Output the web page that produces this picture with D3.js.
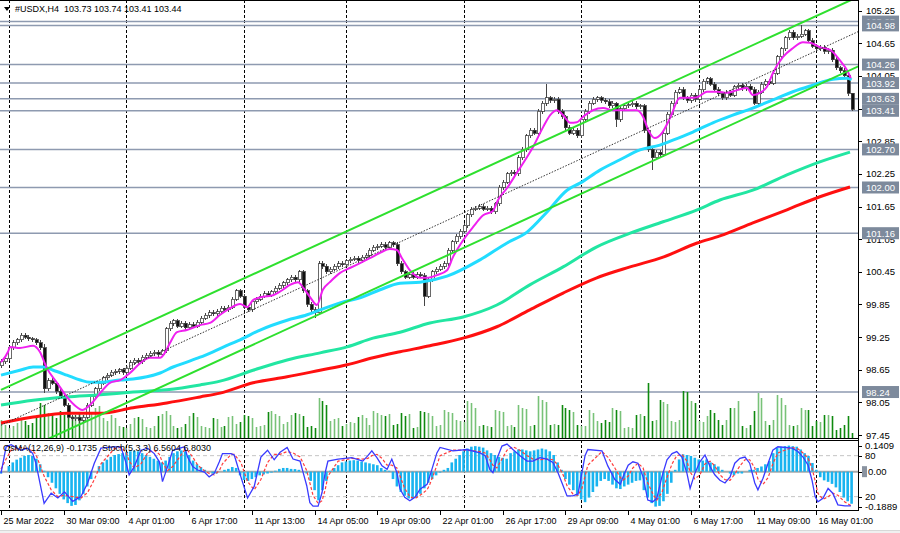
<!DOCTYPE html>
<html>
<head>
<meta charset="utf-8">
<script src="https://cdn.jsdelivr.net/npm/d3@7"></script>
<style>
  html, body { margin: 0; padding: 0; background: #fff; }
  svg { display: block; font-family: "Liberation Sans", Arial, sans-serif; }
</style>
</head>
<body>
<div id="chart"></div>
<script>
////////////////////////////////////////////////////////////////////
////////////////////////////  Data  ////////////////////////////////
const symbolTitle = "#USDX,H4";
const lastOHLC = ["103.73", "103.74", "103.41", "103.44"];
const indicatorTitle = "OsMA(12,26,9) -0.1735  Stoch(5,3,3) 6.5604 6.8030";

// H4 closes, bar 0 = 25 Mar 2022
const closes = [
  98.80, 98.85, 99.05, 99.15, 99.20, 99.28, 99.25, 99.22, 99.20, 99.15,
  99.05, 98.30, 98.45, 98.40, 98.25, 98.15, 98.00, 97.78, 97.75, 97.78,
  97.72, 97.78, 98.00, 98.15, 98.30, 98.40, 98.50, 98.55, 98.60, 98.62,
  98.65, 98.60, 98.68, 98.78, 98.82, 98.80, 98.88, 98.92, 98.95, 98.97,
  98.93, 99.00, 99.40, 99.50, 99.55, 99.45, 99.50, 99.42, 99.48, 99.45,
  99.52, 99.60, 99.65, 99.70, 99.68, 99.72, 99.78, 99.75, 99.80, 99.95,
  100.10, 100.00, 99.80, 99.75, 99.90, 99.95, 100.00, 100.05, 100.02, 100.08,
  100.15, 100.20, 100.25, 100.30, 100.35, 100.30, 100.45, 100.10, 99.85, 99.75,
  99.70, 100.60, 100.55, 100.45, 100.50, 100.55, 100.60, 100.58, 100.65, 100.68,
  100.70, 100.66, 100.72, 100.75, 100.85, 100.90, 100.92, 100.95, 100.90, 100.98,
  100.95, 100.60, 100.45, 100.35, 100.40, 100.35, 100.40, 100.38, 100.00, 100.30,
  100.45, 100.50, 100.55, 100.60, 100.85, 101.00, 101.10, 101.20, 101.30, 101.50,
  101.60, 101.62, 101.65, 101.60, 101.62, 101.55, 101.70, 102.00, 102.10, 102.25,
  102.28, 102.25, 102.55, 102.70, 102.95, 103.05, 103.00, 103.40, 103.55, 103.65,
  103.60, 103.62, 103.40, 103.30, 103.10, 103.00, 103.05, 102.95, 103.25, 103.40,
  103.55, 103.62, 103.65, 103.60, 103.58, 103.50, 103.55, 103.25, 103.45, 103.50,
  103.52, 103.55, 103.48, 103.50, 103.05, 102.70, 102.55, 102.65, 102.60, 103.00,
  103.35, 103.55, 103.75, 103.80, 103.65, 103.60, 103.70, 103.62, 103.80, 103.95,
  104.00, 103.90, 103.80, 103.72, 103.65, 103.75, 103.70, 103.85, 103.88, 103.82,
  103.86, 103.80, 103.55, 103.75, 103.90, 103.95, 103.92, 104.10, 104.40, 104.55,
  104.75, 104.85, 104.75, 104.78, 104.82, 104.88, 104.70, 104.60, 104.55, 104.58,
  104.50, 104.52, 104.35, 104.20, 104.15, 104.05, 103.73, 103.44
];
const firstOpen = 98.72;
// [bar, high, low] for the bars with long shadows
const wickExtremes = [
  [11, 99.12, 98.22], [20, 97.82, 97.62], [80, 99.80, 99.60], [108, 100.42, 99.82],
  [139, 103.90, 103.50], [157, 103.58, 103.12], [166, 102.74, 102.33],
  [204, 104.98, 104.74], [217, 103.74, 103.41]
];

const volumes = [
  18, 13, 10, 12, 15, 20, 17, 13, 15, 20,
  35, 33, 25, 23, 20, 27, 23, 27, 22, 23,
  25, 23, 20, 25, 30, 32, 20, 17, 23, 20,
  12, 11, 10, 14, 20, 21, 19, 11, 10, 12,
  22, 24, 27, 23, 12, 10, 11, 14, 22, 25,
  21, 12, 11, 10, 20, 19, 11, 12, 21, 22,
  14, 16, 23, 22, 20, 11, 12, 13, 26, 27,
  24, 22, 14, 16, 23, 25, 24, 22, 11, 12,
  10, 40, 37, 33, 17, 19, 20, 12, 14, 16,
  15, 21, 23, 20, 13, 27, 25, 23, 22, 24,
  13, 14, 25, 22, 24, 10, 11, 27, 26, 25,
  22, 12, 13, 28, 26, 25, 18, 17, 16, 37,
  35, 30, 12, 13, 12, 11, 28, 27, 26, 12,
  13, 11, 33, 30, 29, 12, 13, 42, 38, 36,
  13, 14, 13, 33, 30, 28, 26, 13, 12, 12,
  28, 25, 17, 15, 18, 16, 30, 28, 27, 10,
  11, 10, 23, 24, 22, 55, 17, 18, 38, 36,
  34, 17, 16, 18, 47, 46, 37, 35, 17, 16,
  22, 28, 25, 18, 13, 18, 30, 30, 37, 12,
  10, 13, 27, 45, 40, 17, 13, 18, 43, 40,
  33, 13, 12, 13, 30, 28, 28, 12, 17, 16,
  23, 23, 22, 8, 10, 13, 22, 5
];

const osma = [
  -0.01, 0.00, 0.03, 0.05, 0.065, 0.075, 0.085, 0.09, 0.085, 0.07,
  0.04, 0.005, -0.03, -0.06, -0.09, -0.12, -0.15, -0.17, -0.185, -0.18,
  -0.155, -0.12, -0.08, -0.04, 0.00, 0.03, 0.05, 0.065, 0.08, 0.09,
  0.095, 0.10, 0.105, 0.11, 0.113, 0.11, 0.10, 0.09, 0.08, 0.07,
  0.06, 0.05, 0.06, 0.08, 0.10, 0.11, 0.115, 0.11, 0.09, 0.06,
  0.04, 0.025, 0.01, 0.00, -0.01, -0.01, 0.00, 0.01, 0.015, 0.025,
  0.02, -0.02, -0.045, -0.05, -0.04, -0.03, -0.02, -0.015, -0.01, -0.005,
  0.005, 0.015, 0.02, 0.02, 0.015, 0.014, 0.01, 0.00, -0.01, -0.05,
  -0.10, -0.155, -0.10, -0.05, 0.005, 0.02, 0.035, 0.05, 0.055, 0.06,
  0.062, 0.06, 0.055, 0.05, 0.045, 0.04, 0.035, 0.02, 0.01, 0.005,
  -0.04, -0.08, -0.11, -0.13, -0.145, -0.147, -0.14, -0.12, -0.09, -0.06,
  -0.04, -0.02, -0.005, 0.01, 0.02, 0.05, 0.07, 0.09, 0.11, 0.125,
  0.135, 0.138, 0.135, 0.13, 0.115, 0.10, 0.09, 0.08, 0.075, 0.07,
  0.10, 0.11, 0.12, 0.12, 0.115, 0.11, 0.115, 0.12, 0.125, 0.12,
  0.11, 0.09, 0.05, 0.01, -0.04, -0.07, -0.10, -0.13, -0.15, -0.165,
  -0.14, -0.11, -0.08, -0.05, -0.04, -0.05, -0.07, -0.09, -0.094, -0.08,
  -0.07, -0.06, -0.05, -0.047, -0.10, -0.14, -0.17, -0.1889, -0.185, -0.16,
  -0.12, -0.06, 0.01, 0.066, 0.094, 0.09, 0.085, 0.075, 0.066, 0.06,
  0.066, 0.05, 0.04, 0.028, 0.01, 0.00, -0.01, -0.019, -0.01, -0.01,
  0.00, 0.01, 0.01, 0.02, 0.028, 0.04, 0.057, 0.10, 0.13, 0.135,
  0.138, 0.1409, 0.138, 0.135, 0.12, 0.10, 0.085, 0.047, 0.01, -0.03,
  -0.047, -0.055, -0.066, -0.085, -0.11, -0.14, -0.16, -0.1735
];

// stochastic, read at these bar positions
const stochBars = [
  0, 1.3, 2.6, 5.1, 6.8, 8.1, 8.9, 11, 12.8, 14.5,
  16.2, 18.3, 20.4, 22.1, 23.8, 25.5, 28.9, 30.6, 31.9, 32.7,
  34, 35.7, 37.4, 39.1, 40.4, 41.2, 42.5, 43.8, 46.8, 47.6,
  48.9, 50.2, 51.9, 53.1, 54.4, 55.7, 56.5, 58.7, 59.5, 61.2,
  62.9, 64.6, 66.3, 68, 69.7, 71.2, 73, 74.5, 76.3, 77,
  78, 78.8, 79.6, 80.9, 81.9, 82.7, 83.4, 86, 89.5, 92.3,
  93.6, 94.6, 95.9, 97.2, 98.5, 99.7, 101, 101.8, 103, 104.3,
  105.6, 106.9, 108.7, 109.4, 110.2, 111.2, 112, 115.3, 118.9, 122.2,
  123.5, 124.7, 125.5, 126.5, 127.8, 129.1, 130.6, 132.4, 134.2, 135.7,
  137.5, 139.3, 140.8, 142.1, 143.4, 144.4, 145.9, 147.2, 148.2, 149,
  149.7, 153.3, 154.8, 156.6, 158, 158.7, 160, 161.2, 162.5, 163.8,
  165, 166.3, 167.3, 168.6, 169.9, 171.2, 172.4, 173.7, 175, 175.8,
  177, 178.3, 179.6, 180.9, 182.1, 183.4, 184.7, 186, 187.2, 188.5,
  189.8, 191, 192.3, 193.1, 194.4, 195.7, 196.9, 198.2, 201.8, 203.3,
  204.6, 205.9, 206.9, 207.7, 208.4, 209.7, 211, 212.2, 213.5, 215.3,
  216.8
];
const stochMain = [
  54, 93, 96, 88, 91, 83, 69, 10, 25, 18,
  27, 13, 20, 40, 69, 91, 93, 93, 69, 52,
  64, 88, 91, 83, 71, 42, 64, 88, 93, 78,
  64, 59, 56, 49, 54, 71, 83, 83, 81, 49,
  18, 35, 78, 88, 74, 85, 92, 75, 72, 57,
  36, 11, 6, 6, 26, 55, 72, 75, 77, 72,
  80, 87, 77, 65, 60, 75, 55, 31, 19, 14,
  19, 31, 38, 50, 65, 84, 92, 87, 89, 84,
  80, 60, 55, 75, 94, 97, 89, 80, 72, 72,
  77, 75, 70, 55, 36, 21, 21, 24, 55, 80,
  89, 87, 65, 45, 38, 49, 66, 71, 69, 49,
  15, 12.6, 17.6, 49, 74, 83, 86, 78, 54, 32,
  54, 71, 81, 64, 52, 44, 40, 49, 69, 76,
  78, 69, 40, 30, 47, 69, 88, 93, 91, 86,
  78, 66, 44, 20, 12.6, 17.6, 32, 25, 8, 6.5,
  6.56
];
const stochSignal = [
  60, 75, 88, 92, 90, 87, 82, 50, 30, 20,
  22, 20, 18, 26, 45, 68, 90, 92, 85, 72,
  62, 68, 84, 88, 82, 70, 58, 64, 88, 88,
  78, 66, 58, 54, 52, 58, 68, 82, 82, 70,
  42, 30, 45, 70, 82, 82, 86, 84, 78, 70,
  58, 40, 22, 10, 14, 30, 50, 72, 76, 75,
  76, 80, 82, 76, 66, 66, 62, 50, 32, 20,
  17, 22, 30, 38, 50, 66, 80, 88, 88, 86,
  84, 74, 66, 62, 75, 88, 93, 88, 80, 75,
  74, 75, 74, 66, 52, 36, 24, 22, 32, 50,
  66, 86, 78, 62, 48, 44, 50, 62, 69, 62,
  40, 24, 15, 26, 48, 68, 80, 82, 72, 56,
  46, 52, 68, 72, 65, 52, 45, 44, 53, 65,
  74, 74, 62, 46, 38, 48, 68, 84, 92, 90,
  84, 76, 62, 43, 25, 16, 20, 25, 22, 12,
  6.80
];

// moving averages, [bar, price]
const maFast = [
  [0, 98.79], [1.8, 98.98], [2.3, 99.07], [4.8, 99.05], [8.2, 99.09], [9.9, 98.98],
  [11.7, 98.68], [14.3, 98.41], [16.8, 98.15], [19.4, 97.96], [20.7, 97.91], [22.7, 98.00],
  [25.3, 98.22], [27.8, 98.41], [30.4, 98.46], [32.9, 98.59], [35.5, 98.77], [38, 98.87],
  [40.6, 98.87], [41.8, 98.96], [43.1, 99.14], [44.9, 99.34], [47.4, 99.38], [50.8, 99.47],
  [53.3, 99.51], [55.9, 99.66], [58.4, 99.78], [61, 99.86], [62.8, 99.80], [64.3, 99.93],
  [66.8, 99.99], [69.4, 100.02], [71.9, 100.12], [73.7, 100.21], [75.8, 100.26], [77, 100.17],
  [78.8, 99.99], [80.6, 99.84], [82.1, 100.12], [83.9, 100.26], [86.5, 100.43], [89, 100.52],
  [91.6, 100.61], [94.1, 100.70], [96.7, 100.80], [99.2, 100.87], [101, 100.85], [102.3, 100.70],
  [104.3, 100.48], [106.9, 100.34], [108.7, 100.34], [111.2, 100.39], [113.8, 100.48], [115.3, 100.72],
  [117.9, 101.03], [120.4, 101.27], [123, 101.49], [125.5, 101.57], [126.8, 101.77], [129.1, 101.99],
  [131.6, 102.27], [134.2, 102.56], [135.7, 102.74], [138.3, 103.11], [140.1, 103.33], [141.8, 103.42],
  [143.4, 103.33], [145.2, 103.19], [146.9, 103.20], [148.5, 103.30], [151, 103.42], [153.6, 103.46],
  [156.1, 103.42], [159.7, 103.42], [162.2, 103.42], [163.8, 103.30], [165.1, 103.06], [166.8, 102.91],
  [168.6, 103.00], [170.7, 103.28], [173.2, 103.65], [175.8, 103.65], [177.6, 103.66], [180.1, 103.76],
  [182.7, 103.76], [185.2, 103.74], [187.8, 103.79], [190.3, 103.83], [191.8, 103.70], [193.6, 103.74],
  [195.4, 103.85], [196.9, 104.10], [199.5, 104.40], [202, 104.56], [204.6, 104.67], [206.4, 104.66],
  [208.9, 104.58], [211.5, 104.53], [214, 104.34], [215.8, 104.16], [216.8, 104.01]
];
const maMid = [
  [0, 98.55], [4.8, 98.64], [8.2, 98.70], [10.7, 98.70], [13.3, 98.64], [16.8, 98.55],
  [20.2, 98.46], [22.7, 98.42], [25.3, 98.42], [30.4, 98.46], [33.7, 98.48], [37.2, 98.52],
  [40.6, 98.59], [43.9, 98.70], [47.4, 98.79], [50.8, 98.88], [54.1, 98.98], [58.4, 99.12],
  [61, 99.20], [66.1, 99.38], [73, 99.56], [78.1, 99.66], [81.4, 99.75], [86.5, 99.88],
  [91.6, 99.97], [96.7, 100.12], [101.8, 100.24], [106.9, 100.26], [113.8, 100.37], [122.2, 100.67],
  [129.1, 100.98], [134.2, 101.18], [139.3, 101.55], [144.4, 101.95], [147.7, 102.08], [152.8, 102.32],
  [157.9, 102.51], [163, 102.69], [168.1, 102.78], [171.4, 102.87], [176.5, 103.02], [181.6, 103.19],
  [186.7, 103.33], [191.8, 103.46], [196.9, 103.61], [202, 103.76], [207.1, 103.88], [212.2, 103.99],
  [215.8, 104.01], [217, 103.98]
];
const maSlow = [
  [0, 98.00], [8.2, 98.09], [16.8, 98.15], [25.3, 98.19], [33.7, 98.24], [42.3, 98.28],
  [50.8, 98.37], [55.9, 98.44], [64.3, 98.64], [73, 98.83], [81.4, 98.96], [88.3, 99.07],
  [94.9, 99.23], [101.8, 99.34], [109.4, 99.51], [117.9, 99.62], [126.5, 99.84], [134.9, 100.21],
  [143.4, 100.54], [152, 100.91], [160.5, 101.16], [168.9, 101.37], [177.6, 101.59], [183.4, 101.77],
  [191.8, 101.95], [200.5, 102.23], [208.9, 102.47], [216.6, 102.65]
];
const ma200 = [
  [0, 97.67], [8.2, 97.78], [16.8, 97.85], [25.3, 97.85], [33.7, 97.95], [42.3, 98.04],
  [50.8, 98.15], [55.9, 98.22], [64.3, 98.41], [73, 98.52], [81.4, 98.64], [88.3, 98.74],
  [94.9, 98.87], [101.8, 98.98], [109.4, 99.09], [117.9, 99.23], [126.5, 99.44], [134.9, 99.75],
  [143.4, 100.06], [152, 100.34], [160.5, 100.54], [168.9, 100.72], [177.6, 100.98], [183.4, 101.11],
  [191.8, 101.35], [200.5, 101.59], [208.9, 101.83], [216.6, 102.01]
];

// equidistant channel, [bar, price] at both ends
const channelUpper = [[0, 98.28], [217, 105.45]];
const channelMid = [[0, 97.63], [217, 104.81]];
const channelLower = [[0, 96.98], [217, 104.17]];

const levels = [105.05, 104.98, 104.26, 103.92, 103.63, 103.41, 102.70, 102.00, 101.16, 98.24];
const priceTicks = [105.25, 104.65, 104.05, 103.45, 102.85, 102.25, 101.65, 101.05, 100.45, 99.85, 99.25, 98.65, 98.05, 97.45];
const gridBars = [2, 32, 62, 88, 118, 148, 178, 208];
const timeBars = [0, 16, 32, 48, 64, 80, 96, 112, 128, 144, 160, 176, 192, 208];
const timeLabels = ["25 Mar 2022", "30 Mar 09:00", "4 Apr 01:00", "6 Apr 17:00", "11 Apr 13:00",
  "14 Apr 05:00", "19 Apr 09:00", "22 Apr 01:00", "26 Apr 17:00", "29 Apr 09:00",
  "4 May 01:00", "6 May 17:00", "11 May 09:00", "16 May 01:00"];
const indTicks = [["0.1409", 0.1409, "osma"], ["80", 80, "stoch"], ["0.00", 0, "osma"], ["20", 20, "stoch"], ["-0.1889", -0.1889, "osma"]];

////////////////////////////////////////////////////////////////////
////////////////////////////  Init  ////////////////////////////////
const width = 900, height = 533;
const plotRight = 858;
const mainBottom = 438;
const indTop = 440, indBottom = 510;

const svg = d3.select("#chart").append("svg").attr("width", width).attr("height", height);

// scales
const xScale = d3.scaleLinear().domain([0, 217]).range([1, 851.6]);
const yScale = d3.scaleLinear().domain([97.45, 105.25]).range([435, 10.7]);
const volScale = d3.scaleLinear().domain([0, d3.max(volumes)]).range([mainBottom, 383]);
const osmaScale = d3.scaleLinear().domain([-0.1889, 0.1409]).range([506.6, 445.6]);
const stochScale = d3.scaleLinear().domain([0, 100]).range([510.3, 442]);

const defs = svg.append("defs");
defs.append("clipPath").attr("id", "clip-main").append("rect")
  .attr("x", 0).attr("y", 1).attr("width", plotRight).attr("height", mainBottom - 1);
defs.append("clipPath").attr("id", "clip-ind").append("rect")
  .attr("x", 0).attr("y", indTop + 1).attr("width", plotRight).attr("height", indBottom - indTop - 1);

const gMain = svg.append("g").attr("clip-path", "url(#clip-main)");
const gInd = svg.append("g").attr("clip-path", "url(#clip-ind)");

const px = (d) => Math.round(xScale(d)) + 0.5;

////////////////////////////////////////////////////////////////////
////////////////////////////  Main window  /////////////////////////
// grid
gMain.selectAll(".vgrid").data(gridBars).enter().append("line")
  .attr("x1", px).attr("x2", px).attr("y1", 0).attr("y2", mainBottom)
  .attr("stroke", "#000").attr("stroke-dasharray", "3,2");

// horizontal levels
gMain.selectAll(".level").data(levels).enter().append("line")
  .attr("x1", 0).attr("x2", plotRight)
  .attr("y1", (d) => yScale(d)).attr("y2", (d) => yScale(d))
  .attr("stroke", "#8e9ab0").attr("stroke-width", 1.5);

// candles
const bars = closes.map((c, i) => {
  const o = i === 0 ? firstOpen : closes[i - 1];
  let h = Math.max(o, c) + 0.04;
  let l = Math.min(o, c) - 0.04;
  const ext = wickExtremes.find((w) => w[0] === i);
  if (ext) {
    h = Math.max(ext[1], o, c);
    l = Math.min(ext[2], o, c);
  }
  return { i, o, h, l, c, up: c >= o };
});

// volumes
gMain.selectAll(".vol").data(volumes).enter().append("line")
  .attr("x1", (d, i) => px(i)).attr("x2", (d, i) => px(i))
  .attr("y1", mainBottom).attr("y2", (d) => volScale(d))
  .attr("stroke", (d, i) => (bars[i] && bars[i].up ? "#78c278" : "#0f8a0f"))
  .attr("stroke-width", 1.6);

const candleG = gMain.append("g").attr("shape-rendering", "crispEdges");
candleG.selectAll(".wick").data(bars).enter().append("line")
  .attr("x1", (d) => px(d.i)).attr("x2", (d) => px(d.i))
  .attr("y1", (d) => yScale(d.h)).attr("y2", (d) => yScale(d.l))
  .attr("stroke", "#444");
candleG.selectAll(".body").data(bars).enter().append("rect")
  .attr("x", (d) => Math.round(xScale(d.i)) - 1)
  .attr("y", (d) => yScale(Math.max(d.o, d.c)))
  .attr("width", 3)
  .attr("height", (d) => Math.max(1, Math.abs(yScale(d.o) - yScale(d.c))))
  .attr("fill", (d) => (d.up ? "#fff" : "#111"))
  .attr("stroke", "#444").attr("stroke-width", 0.8);

// moving averages
const maLine = d3.line().x((d) => xScale(d[0])).y((d) => yScale(d[1])).curve(d3.curveMonotoneX);
[
  [ma200, "#ff1010", 3],
  [maSlow, "#22e6a2", 3],
  [maMid, "#22dcff", 3],
  [maFast, "#f020f0", 2],
].forEach(([data, color, w]) => {
  gMain.append("path").datum(data).attr("d", maLine)
    .attr("fill", "none").attr("stroke", color).attr("stroke-width", w);
});

// channel
const channelPath = (pts) => {
  const p = d3.scaleLinear().domain([pts[0][0], pts[1][0]]).range([pts[0][1], pts[1][1]]);
  return [[0, p(0)], [219.5, p(219.5)]];
};
const straight = d3.line().x((d) => xScale(d[0])).y((d) => yScale(d[1]));
[channelUpper, channelLower].forEach((c) => {
  gMain.append("path").datum(channelPath(c)).attr("d", straight)
    .attr("fill", "none").attr("stroke", "#2ee02e").attr("stroke-width", 2);
});
gMain.append("path").datum(channelPath(channelMid)).attr("d", straight)
  .attr("fill", "none").attr("stroke", "#333").attr("stroke-width", 1)
  .attr("stroke-dasharray", "1.5,1.5");

// header
svg.append("path").attr("d", "M4,7 L10,7 L7,11 Z").attr("fill", "#000");
svg.append("text").attr("x", 15).attr("y", 12).attr("font-size", 9).attr("fill", "#000")
  .style("white-space", "pre")
  .text(symbolTitle + "  " + lastOHLC.join(" "));

////////////////////////////////////////////////////////////////////
////////////////////////////  Indicator window  ////////////////////
gInd.selectAll(".vgrid").data(gridBars).enter().append("line")
  .attr("x1", px).attr("x2", px).attr("y1", indTop).attr("y2", indBottom)
  .attr("stroke", "#000").attr("stroke-dasharray", "3,2");

gInd.selectAll(".slevel").data([80, 20]).enter().append("line")
  .attr("x1", 0).attr("x2", plotRight)
  .attr("y1", (d) => stochScale(d)).attr("y2", (d) => stochScale(d))
  .attr("stroke", "#c4c4c4").attr("stroke-dasharray", "4,3");

gInd.append("line").attr("x1", 0).attr("x2", plotRight)
  .attr("y1", osmaScale(0)).attr("y2", osmaScale(0))
  .attr("stroke", "#a8a8a8").attr("stroke-width", 2);

gInd.selectAll(".osma").data(osma).enter().append("rect")
  .attr("x", (d, i) => xScale(i) - 1.3)
  .attr("width", 2.6)
  .attr("y", (d) => Math.min(osmaScale(d), osmaScale(0)))
  .attr("height", (d) => Math.abs(osmaScale(d) - osmaScale(0)))
  .attr("fill", "#18b4f0");

svg.append("text").attr("x", 3).attr("y", 451).attr("font-size", 9).attr("fill", "#000")
  .style("white-space", "pre").text(indicatorTitle);

const stochLine = (vals) => d3.line()
  .x((d, k) => xScale(stochBars[k])).y((d) => stochScale(d))(vals);
gInd.append("path").attr("d", stochLine(stochSignal))
  .attr("fill", "none").attr("stroke", "#ff3c3c").attr("stroke-width", 1.2)
  .attr("stroke-dasharray", "3,2");
gInd.append("path").attr("d", stochLine(stochMain))
  .attr("fill", "none").attr("stroke", "#3a3aff").attr("stroke-width", 1.3);

////////////////////////////////////////////////////////////////////
////////////////////////////  Frames & axes  ///////////////////////
svg.append("line").attr("x1", 0).attr("x2", plotRight).attr("y1", 0.5).attr("y2", 0.5).attr("stroke", "#000");
svg.append("line").attr("x1", 0).attr("x2", plotRight).attr("y1", mainBottom + 0.5).attr("y2", mainBottom + 0.5).attr("stroke", "#000");
svg.append("line").attr("x1", 0).attr("x2", plotRight).attr("y1", indTop + 0.5).attr("y2", indTop + 0.5).attr("stroke", "#000");
svg.append("line").attr("x1", 0).attr("x2", plotRight).attr("y1", indBottom + 0.5).attr("y2", indBottom + 0.5).attr("stroke", "#000");
svg.append("line").attr("x1", plotRight + 0.5).attr("x2", plotRight + 0.5).attr("y1", 0).attr("y2", indBottom + 1).attr("stroke", "#000");

// price axis
const priceAxis = svg.append("g");
priceAxis.selectAll(".tick").data(priceTicks).enter().append("line")
  .attr("x1", plotRight).attr("x2", plotRight + 4)
  .attr("y1", (d) => Math.round(yScale(d)) + 0.5).attr("y2", (d) => Math.round(yScale(d)) + 0.5)
  .attr("stroke", "#000");
priceAxis.selectAll(".lbl").data(priceTicks).enter().append("text")
  .attr("x", 866).attr("y", (d) => yScale(d) + 3.5)
  .attr("font-size", 9.5).attr("fill", "#000")
  .text((d) => d.toFixed(2));

// level boxes
const levelBox = svg.append("g");
levels.forEach((lv) => {
  levelBox.append("rect").attr("x", 862).attr("y", yScale(lv) - 6).attr("width", 37).attr("height", 12)
    .attr("fill", "#7d8a9c");
  levelBox.append("text").attr("x", 866).attr("y", yScale(lv) + 3.5)
    .attr("font-size", 9.5).attr("fill", "#fff").text(lv.toFixed(2));
});

// indicator scale labels
indTicks.forEach(([t, v, kind]) => {
  const yy = kind === "osma" ? osmaScale(v) : stochScale(v);
  svg.append("line").attr("x1", plotRight).attr("x2", plotRight + 4)
    .attr("y1", Math.round(yy) + 0.5).attr("y2", Math.round(yy) + 0.5).attr("stroke", "#000");
  if (t === "0.00") {
    svg.append("rect").attr("x", 862).attr("y", yy - 5.5).attr("width", 5).attr("height", 11).attr("fill", "#8a93a0");
  }
  svg.append("text").attr("x", t === "0.00" ? 868 : 865).attr("y", yy + 3.5)
    .attr("font-size", 9.5).attr("fill", "#000").text(t);
});

// time axis
const timeAxis = svg.append("g");
timeBars.forEach((b, k) => {
  const xx = px(b);
  timeAxis.append("line").attr("x1", xx).attr("x2", xx).attr("y1", indBottom).attr("y2", indBottom + 5).attr("stroke", "#000");
  timeAxis.append("text").attr("x", xx + 2).attr("y", 524).attr("font-size", 9).attr("fill", "#000").text(timeLabels[k]);
});

// bottom strip
svg.append("rect").attr("x", 0).attr("y", 530).attr("width", width).attr("height", 3).attr("fill", "#f0f0f0");
svg.append("line").attr("x1", 0).attr("x2", width).attr("y1", 530.5).attr("y2", 530.5).attr("stroke", "#d8d8d8");
</script>
</body>
</html>
